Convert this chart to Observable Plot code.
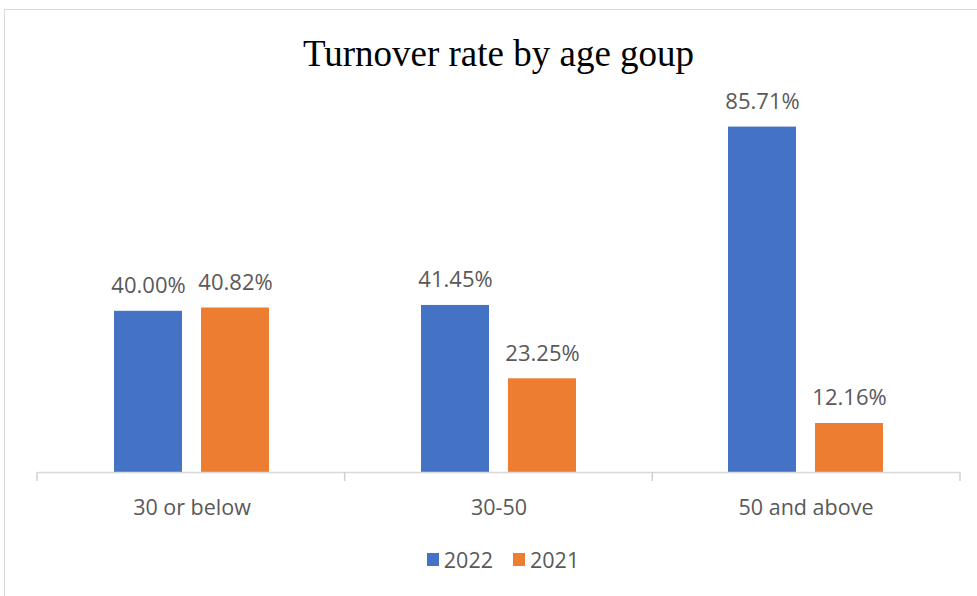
<!DOCTYPE html>
<html>
<head>
<meta charset="utf-8">
<script src="https://cdn.jsdelivr.net/npm/d3@7"></script>
<script src="https://cdn.jsdelivr.net/npm/@observablehq/plot@0.6"></script>
<style>
  html, body { margin: 0; padding: 0; background: #fff; }
  #wrap { position: relative; width: 977px; height: 596px; overflow: hidden; }
  #frame { position: absolute; left: 4px; top: 9px; width: 1000px; height: 700px;
           border-left: 1.5px solid #D9D9D9; border-top: 1.5px solid #D9D9D9; box-sizing: border-box; }
  #title { position: absolute; left: 0; width: 997px; top: 32px; text-align: center;
           font-family: "Liberation Serif", "Times New Roman", serif; font-size: 37px; color: #000; }
  #legend { position: absolute; left: 0; width: 1006px; top: 545px; display: flex; justify-content: center;
            gap: 20px; font-family: "Open Sans", sans-serif; font-size: 21.5px; color: #595959; }
  #legend .item { display: flex; align-items: center; gap: 5px; }
  #legend .sw { width: 12px; height: 13px; display: inline-block; }
  #chart { position: absolute; left: 0; top: 0; }
</style>
</head>
<body>
<div id="wrap">
  <div id="frame"></div>
  <div id="chart"></div>
  <div id="title"></div>
  <div id="legend"></div>
</div>
<script>
const title = "Turnover rate by age goup";
const categories = ["30 or below", "30-50", "50 and above"];
const years = ["2022", "2021"];
const values2022 = [40.00, 41.45, 85.71];
const values2021 = [40.82, 23.25, 12.16];
const colors = ["#4472C4", "#ED7D31"];

const data = [];
categories.forEach((c, i) => {
  data.push({group: c, year: "2022", value: values2022[i]});
  data.push({group: c, year: "2021", value: values2021[i]});
});

const chart = Plot.plot({
  width: 977,
  height: 596,
  marginTop: 69,
  marginBottom: 124,
  marginLeft: 37,
  marginRight: 17,
  style: {fontFamily: "'Open Sans', sans-serif", background: "transparent"},
  fx: {domain: categories, padding: 0, label: null, axis: null},
  x: {domain: years, paddingInner: 0.216, paddingOuter: 0.858, axis: null},
  y: {domain: [0, 100], axis: null},
  color: {domain: years, range: colors},
  marks: [
    Plot.barY(data, {fx: "group", x: "year", y: "value", fill: "year"}),
    Plot.ruleY([0], {stroke: "#D9D9D9", strokeWidth: 1.5}),
    Plot.text(data, {fx: "group", x: "year", y: "value",
      text: d => d.value.toFixed(2) + "%", lineAnchor: "bottom", dy: -18,
      fill: "#595959", fontSize: 22}),
    Plot.axisFx({anchor: "bottom", tickSize: 0, tickPadding: 27, fontSize: 21.5,
      color: "#595959", label: null})
  ]
});
document.getElementById("chart").appendChild(chart);

// category boundary ticks derived from the fx scale
const fxs = chart.scale("fx");
const band = d3.scaleBand().domain(fxs.domain).range(fxs.range).padding(0);
const y0 = chart.scale("y").apply(0);
const edges = fxs.domain.map(d => band(d)).concat([band(fxs.domain[fxs.domain.length - 1]) + band.bandwidth()]);
d3.select(chart).append("g")
  .selectAll("line").data(edges).join("line")
  .attr("x1", d => d).attr("x2", d => d)
  .attr("y1", y0).attr("y2", y0 + 9)
  .attr("stroke", "#D0D0D0").attr("stroke-width", 1.5);

document.getElementById("title").textContent = title;
const legend = document.getElementById("legend");
years.forEach((y, i) => {
  const item = document.createElement("span");
  item.className = "item";
  const sw = document.createElement("span");
  sw.className = "sw";
  sw.style.background = colors[i];
  item.appendChild(sw);
  item.appendChild(document.createTextNode(y));
  legend.appendChild(item);
});
</script>
</body>
</html>
